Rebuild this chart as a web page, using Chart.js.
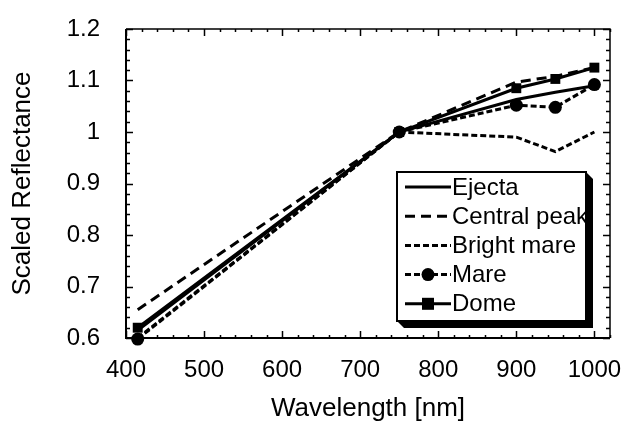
<!DOCTYPE html>
<html>
<head>
<meta charset="utf-8">
<script src="https://cdn.jsdelivr.net/npm/chart.js@4/dist/chart.umd.min.js"></script>
<style>
  html, body { margin: 0; padding: 0; background: #fff; }
  #wrap { width: 623px; height: 425px; }
</style>
</head>
<body>
<div id="wrap"><canvas id="chart"></canvas></div>
<script>
// values (Clementine bands, scaled to 1 at 750 nm)
const wavelengths = [415, 750, 900, 950, 1000];
const ejecta      = [0.615, 1.0, 1.063, 1.077, 1.090];
const centralPeak = [0.655, 1.0, 1.097, 1.108, 1.125];
const brightMare  = [0.600, 1.0, 0.990, 0.962, 1.000];
const mare        = [0.598, 1.0, 1.052, 1.048, 1.092];
const dome        = [0.620, 1.0, 1.085, 1.103, 1.125];

const xTicks = [400, 500, 600, 700, 800, 900, 1000];
const yTicks = [0.6, 0.7, 0.8, 0.9, 1.0, 1.1, 1.2];

const FONT = '"Liberation Sans", Arial, sans-serif';

const points = (values) => values.map((y, i) => ({ x: wavelengths[i], y }));

const series = [
  { label: 'Ejecta',       data: ejecta,      dash: [],      marker: false },
  { label: 'Central peak', data: centralPeak, dash: [10, 6], marker: false },
  { label: 'Bright mare',  data: brightMare,  dash: [6, 3],  marker: false },
  { label: 'Mare',         data: mare,        dash: [6, 3],  marker: 'circle' },
  { label: 'Dome',         data: dome,        dash: [],      marker: 'rect' },
];

const datasets = series.map(s => ({
  label: s.label,
  data: points(s.data),
  borderColor: '#000',
  backgroundColor: '#000',
  borderWidth: 3,
  borderDash: s.dash,
  pointStyle: s.marker || false,
  pointRadius: s.marker === 'rect' ? 7 : 6.5,
  pointBorderWidth: 0,
  tension: 0,
  clip: false,
}));

// chart.js reserves room for half of the edge labels, the frame here is fixed instead
const noPadding = (scale) => {
  scale.paddingLeft = scale.paddingRight = 0;
  scale.paddingTop = scale.paddingBottom = 0;
};

/* frame with inward ticks on all four sides */
const frame = {
  id: 'frame',
  beforeDatasetsDraw(chart) {
    const { ctx, chartArea: a, scales: { x, y } } = chart;
    ctx.save();
    ctx.strokeStyle = '#000';

    ctx.lineWidth = 1.5;
    ctx.beginPath();
    ctx.moveTo(a.left, a.top); ctx.lineTo(a.right, a.top); ctx.lineTo(a.right, a.bottom);
    ctx.stroke();
    ctx.lineWidth = 2;
    ctx.beginPath();
    ctx.moveTo(a.left, a.top); ctx.lineTo(a.left, a.bottom); ctx.lineTo(a.right, a.bottom);
    ctx.stroke();

    ctx.lineWidth = 1.5;
    ctx.beginPath();
    for (let v = 400; v <= 1020; v += 20) {
      const px = Math.round(x.getPixelForValue(v)) + 0.5;
      const len = v % 100 === 0 ? 7 : 3;
      ctx.moveTo(px, a.bottom); ctx.lineTo(px, a.bottom - len);
      ctx.moveTo(px, a.top); ctx.lineTo(px, a.top + len);
    }
    for (let i = 0; i <= 30; i++) {
      const v = 0.6 + i * 0.02;
      const py = Math.round(y.getPixelForValue(v)) + 0.5;
      const len = i % 5 === 0 ? 7 : 4;
      ctx.moveTo(a.left, py); ctx.lineTo(a.left + len, py);
      ctx.moveTo(a.right, py); ctx.lineTo(a.right - len, py);
    }
    ctx.stroke();
    ctx.restore();
  }
};

/* boxed legend with a drop shadow, drawn over the lines */
const boxLegend = {
  id: 'boxLegend',
  afterDraw(chart) {
    const { ctx } = chart;
    const x0 = 397, y0 = 172, x1 = 586, y1 = 321, sh = 7;
    ctx.save();

    ctx.fillStyle = '#000';
    ctx.beginPath();
    ctx.moveTo(x1, y0); ctx.lineTo(x1 + sh, y0 + sh); ctx.lineTo(x1 + sh, y1 + sh);
    ctx.lineTo(x0 + sh, y1 + sh); ctx.lineTo(x0, y1);
    ctx.closePath();
    ctx.fill();

    ctx.fillStyle = '#fff';
    ctx.fillRect(x0, y0, x1 - x0, y1 - y0);

    ctx.save();
    ctx.beginPath();
    ctx.rect(x0, y0, x1 - x0 - 1, y1 - y0);
    ctx.clip();

    series.forEach((s, i) => {
      const cy = 187 + i * 29.2;
      ctx.strokeStyle = '#000';
      ctx.fillStyle = '#000';
      ctx.lineWidth = 3;
      ctx.setLineDash(s.dash);
      ctx.beginPath();
      ctx.moveTo(405, cy); ctx.lineTo(451, cy);
      ctx.stroke();
      ctx.setLineDash([]);
      if (s.marker === 'circle') {
        ctx.beginPath(); ctx.arc(428, cy, 6.5, 0, Math.PI * 2); ctx.fill();
      } else if (s.marker === 'rect') {
        ctx.fillRect(428 - 6, cy - 6, 12, 12);
      }
      ctx.font = '24px ' + FONT;
      ctx.textBaseline = 'middle';
      ctx.textAlign = 'left';
      ctx.fillText(s.label, 452, cy + 1);
    });
    ctx.restore();

    ctx.strokeStyle = '#000';
    ctx.lineWidth = 2;
    ctx.strokeRect(x0, y0, x1 - x0, y1 - y0);
    ctx.restore();
  }
};

new Chart(document.getElementById('chart'), {
  type: 'line',
  data: { datasets },
  options: {
    responsive: true,
    maintainAspectRatio: false,
    animation: false,
    layout: { padding: { top: 29, right: 13, left: 0, bottom: 0 } },
    plugins: { legend: { display: false }, tooltip: { enabled: false } },
    scales: {
      x: {
        type: 'linear',
        min: 400, max: 1020,
        afterBuildTicks: (scale) => { scale.ticks = xTicks.map(value => ({ value })); },
        afterFit: (scale) => { scale.height = 87; noPadding(scale); },
        grid: { display: false, drawTicks: false },
        border: { display: false },
        ticks: { color: '#000', padding: 18, maxRotation: 0, callback: v => String(v), font: { family: FONT, size: 24 } },
        title: { display: true, text: 'Wavelength [nm]', color: '#000', padding: { top: 2, bottom: 1 }, font: { family: FONT, size: 26 } },
      },
      y: {
        min: 0.6, max: 1.2,
        afterBuildTicks: (scale) => { scale.ticks = yTicks.map(value => ({ value })); },
        afterFit: (scale) => { scale.width = 126; noPadding(scale); },
        grid: { display: false, drawTicks: false },
        border: { display: false },
        ticks: { color: '#000', padding: 26, callback: v => String(Number(v.toFixed(1))), font: { family: FONT, size: 24 } },
        title: { display: true, text: 'Scaled Reflectance', color: '#000', padding: { top: 7, bottom: 7 }, font: { family: FONT, size: 26 } },
      },
    },
  },
  plugins: [frame, boxLegend],
});
</script>
</body>
</html>
